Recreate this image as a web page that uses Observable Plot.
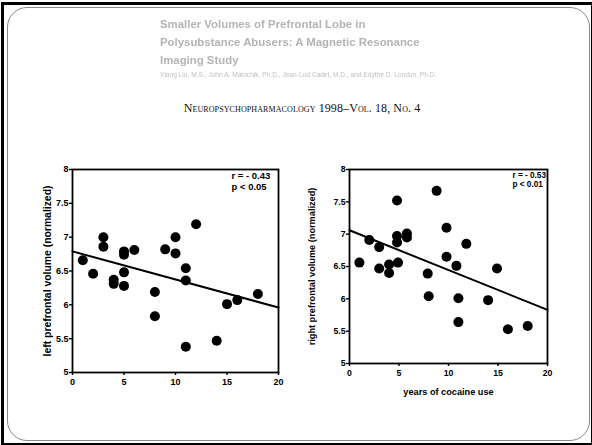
<!DOCTYPE html>
<html><head><meta charset="utf-8">
<script src="https://cdn.jsdelivr.net/npm/d3@7"></script>
<script src="https://cdn.jsdelivr.net/npm/@observablehq/plot@0.6"></script>
<style>
body{margin:0;background:#fff;}
#page{position:relative;width:592px;height:445px;overflow:hidden;background:#fff;font-family:"Liberation Sans",Arial,sans-serif;}
#outer{position:absolute;left:1px;top:2px;right:0;bottom:0;border-left:3px solid #000;border-top:3px solid #000;border-right:1.5px solid #000;border-bottom:2.5px solid #000;}
#inner{position:absolute;left:7px;top:7px;width:581px;height:432px;border:1px solid #888;border-radius:20px;}
#title{position:absolute;left:160px;top:15px;color:#b4b4b4;font-family:"Liberation Sans",sans-serif;font-weight:bold;font-size:11.4px;line-height:18px;filter:blur(0.7px);white-space:nowrap;}
#authors{position:absolute;left:160px;top:71px;color:#c0c0c0;font-family:"Liberation Sans",sans-serif;font-size:6.6px;line-height:8px;filter:blur(0.5px);white-space:nowrap;}
#journal{position:absolute;left:0;width:604px;top:101px;text-align:center;font-family:"Liberation Serif",serif;font-size:12px;font-variant:small-caps;color:#111;white-space:nowrap;letter-spacing:0.1px;}
#left{position:absolute;left:0;top:150px;}
#right{position:absolute;left:300px;top:150px;}
</style>
</head><body>
<div id="page">
  <div id="outer"></div>
  <div id="inner"></div>
  <div id="title">Smaller Volumes of Prefrontal Lobe in<br>Polysubstance Abusers: A Magnetic Resonance<br>Imaging Study</div>
  <div id="authors">Xiang Liu, M.S., John A. Matochik, Ph.D., Jean-Lud Cadet, M.D., and Edythe D. London, Ph.D.</div>
  <div id="journal">Neuropsychopharmacology 1998–Vol. 18, No. 4</div>
  <div id="left"></div>
  <div id="right"></div>
</div>
<script>
// ---- data ----
const leftYears   = [1, 2, 3, 3, 4, 4, 5, 5, 5, 5, 6, 8, 8, 9, 10, 10, 11, 11, 11, 12, 14, 15, 16, 18];
const leftVolume  = [6.66, 6.46, 7.0, 6.86, 6.37, 6.31, 6.79, 6.74, 6.48, 6.28, 6.81, 6.19, 5.83, 6.82, 7.0, 6.76, 6.54, 6.36, 5.38, 7.19, 5.47, 6.01, 6.07, 6.16];
const rightYears  = [1, 2, 3, 3, 4, 4, 4.8, 4.8, 4.8, 4.9, 5.8, 5.8, 7.9, 8, 8.8, 9.8, 9.8, 10.8, 11, 11, 11.8, 14, 14.9, 16, 18];
const rightVolume = [6.56, 6.91, 6.80, 6.47, 6.53, 6.40, 7.52, 6.97, 6.87, 6.56, 7.01, 6.95, 6.39, 6.04, 7.67, 7.10, 6.65, 6.51, 6.01, 5.64, 6.85, 5.98, 6.47, 5.53, 5.58];
const fitYears    = [0, 20];
const leftFit     = [6.79, 5.96];
const rightFit    = [7.06, 5.83];
const xTicks      = [0, 5, 10, 15, 20];
const yTicks      = [5, 5.5, 6, 6.5, 7, 7.5, 8];
const leftStats   = ["r = - 0.43", "p < 0.05"];
const rightStats  = ["r = - 0.53", "p < 0.01"];
const leftYLabel  = "left prefrontal volume (normalized)";
const rightYLabel = "right prefrontal volume (normalized)";
const xLabel      = "years of cocaine use";

function chart(o) {
  const pts = o.xs.map((x, i) => ({x, y: o.ys[i]}));
  const fit = fitYears.map((x, i) => ({x, y: o.fit[i]}));
  const marks = [
    Plot.frame({stroke: "#000", strokeWidth: 1.8}),
    Plot.axisX({ticks: xTicks, tickSize: 3, tickPadding: o.xPad, label: null, tickFormat: d => String(d), strokeWidth: 1.4}),
    Plot.axisY({ticks: yTicks, tickSize: 3, tickPadding: 1, label: null, tickFormat: d => String(d), strokeWidth: 1.4}),
    Plot.line(fit, {x: "x", y: "y", stroke: "#000", strokeWidth: 2}),
    Plot.dot(pts, {x: "x", y: "y", r: 5, fill: "#000", stroke: "none"}),
    Plot.text([o.stats.join("\n")], {frameAnchor: "top-right", textAnchor: "start", lineAnchor: "top", dx: o.statDx, dy: 2, fontSize: o.statSize, lineHeight: 1.12, fill: "#000"}),
    Plot.text([o.yLabel], {frameAnchor: "left", textAnchor: "middle", rotate: -90, lineAnchor: "middle", dx: o.yLabelDx, fontSize: o.yLabelSize, fill: "#000"})
  ];
  if (o.xLabel) marks.push(Plot.text([o.xLabel], {frameAnchor: "bottom", textAnchor: "middle", lineAnchor: "middle", dy: o.xLabelDy, fontSize: o.xLabelSize, fill: "#000"}));
  return Plot.plot({
    width: o.width, height: o.height,
    marginLeft: o.ml, marginRight: o.mr, marginTop: o.mt, marginBottom: o.mb,
    x: {domain: [0, 20]},
    y: {domain: [5, 8]},
    style: {fontFamily: "'Liberation Sans', Arial, sans-serif", fontWeight: "bold", fontSize: o.tickSize + "px", color: "#000", background: "transparent", overflow: "visible"},
    marks
  });
}

document.getElementById("left").append(chart({
  xs: leftYears, ys: leftVolume, fit: leftFit, stats: leftStats, yLabel: leftYLabel,
  width: 290, height: 240, ml: 72, mr: 12, mt: 19, mb: 18, xPad: 3,
  statDx: -47, statSize: 9.5,
  yLabelDx: -25, yLabelSize: 10.4, tickSize: 9
}));
document.getElementById("right").append(chart({
  xs: rightYears, ys: rightVolume, fit: rightFit, stats: rightStats, yLabel: rightYLabel, xLabel,
  width: 260, height: 250, ml: 49, mr: 13, mt: 19, mb: 37, xPad: 3,
  statDx: -35, statSize: 8.2,
  yLabelDx: -37, yLabelSize: 9.2, xLabelDy: 29, xLabelSize: 9.2, tickSize: 8.7
}));
</script>
</body></html>
